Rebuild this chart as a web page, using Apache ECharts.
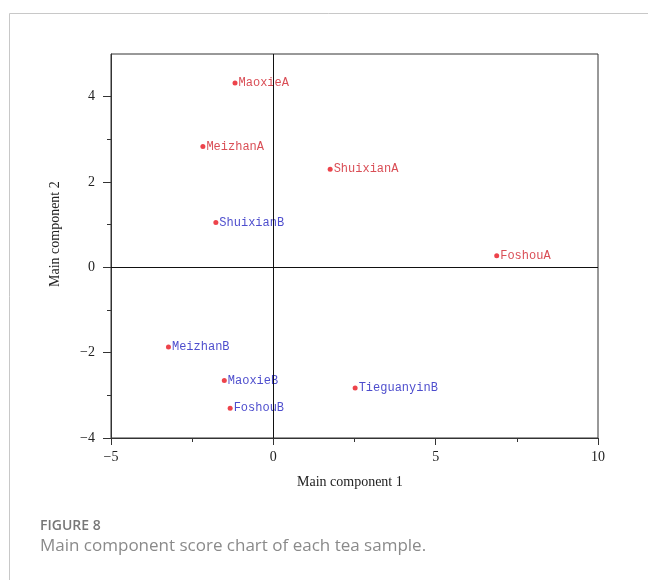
<!DOCTYPE html>
<html>
<head>
<meta charset="utf-8">
<script src="https://cdn.jsdelivr.net/npm/echarts@6/dist/echarts.min.js"></script>
<style>
  html, body { margin: 0; padding: 0; background: #fff; }
  #chart { width: 648px; height: 580px; }
</style>
</head>
<body>
<div id="chart"></div>
<script>
// Principal component scores per tea sample (A / B groups)
const samples = ['MaoxieA', 'MeizhanA', 'ShuixianA', 'FoshouA', 'ShuixianB', 'MeizhanB', 'MaoxieB', 'TieguanyinB', 'FoshouB'];
const pc1 = [-1.18, -2.17, 1.75, 6.88, -1.77, -3.23, -1.51, 2.52, -1.33];
const pc2 = [4.32, 2.83, 2.30, 0.27, 1.05, -1.87, -2.65, -2.83, -3.30];

const xTicks = [-5, 0, 5, 10];
const yTicks = [-4, -2, 0, 2, 4];
const yMinorTicks = [-3, -1, 1, 3];

const groupPoints = (suffix) => samples
  .map((name, i) => ({ name, value: [pc1[i], pc2[i]] }))
  .filter(p => p.name.endsWith(suffix));

const fmt = v => String(v).replace('-', '\u2212');
const serif = 'Liberation Serif';

const chart = echarts.init(document.getElementById('chart'));

const pointSeries = (suffix, labelColor) => ({
  type: 'scatter',
  data: groupPoints(suffix),
  symbol: 'circle',
  symbolSize: 5,
  itemStyle: { color: '#e8141e' },
  label: {
    show: true,
    position: 'right',
    distance: 1,
    formatter: p => p.name,
    color: labelColor,
    fontFamily: 'Liberation Mono',
    fontSize: 12
  },
  silent: true
});

const series = [pointSeries('A', '#d0202a'), pointSeries('B', '#2020c0')];
series[0].markLine = {
  silent: true,
  symbol: 'none',
  label: { show: false },
  lineStyle: { color: '#111', width: 1, type: 'solid' },
  data: [{ xAxis: 0 }, { yAxis: 0 }]
};

chart.setOption({
  animation: false,
  backgroundColor: '#fff',
  grid: {
    left: 111, right: 50, top: 54, bottom: 142,
    show: true, borderColor: '#333', borderWidth: 1, backgroundColor: 'transparent'
  },
  xAxis: {
    type: 'value',
    min: -5, max: 10, interval: 5,
    axisLine: { onZero: false, lineStyle: { color: '#333', width: 1 } },
    axisTick: { show: true, inside: false, length: 7, lineStyle: { color: '#333' } },
    minorTick: { show: true, splitNumber: 2, length: 4, lineStyle: { color: '#333' } },
    splitLine: { show: false },
    axisLabel: {
      margin: 12,
      formatter: v => fmt(v),
      color: '#222', fontFamily: serif, fontSize: 14
    }
  },
  yAxis: [
    {
      type: 'value',
      min: -4, max: 5,
      axisLine: { onZero: false, lineStyle: { color: '#333', width: 1 } },
      axisTick: { show: true, inside: false, length: 8, customValues: yTicks, lineStyle: { color: '#333' } },
      splitLine: { show: false },
      axisLabel: {
        customValues: yTicks,
        margin: 16,
        formatter: v => fmt(v),
        color: '#222', fontFamily: serif, fontSize: 14
      }
    },
    {
      type: 'value',
      min: -4, max: 5,
      position: 'left',
      axisLine: { show: false, onZero: false },
      axisTick: { show: true, inside: false, length: 4, customValues: yMinorTicks, lineStyle: { color: '#333' } },
      splitLine: { show: false },
      axisLabel: { show: false }
    }
  ],
  graphic: [
    // page frame
    { type: 'line', shape: { x1: 9.5, y1: 13.5, x2: 648, y2: 13.5 }, style: { stroke: '#c8c8c8', lineWidth: 1 }, silent: true },
    { type: 'line', shape: { x1: 9.5, y1: 13.5, x2: 9.5, y2: 580 }, style: { stroke: '#c8c8c8', lineWidth: 1 }, silent: true },
    // axis titles
    { type: 'text', left: 297, top: 475, style: { text: 'Main component 1', font: '14px "Liberation Serif"', fill: '#222' }, silent: true },
    { type: 'text', x: 48, y: 287, rotation: Math.PI / 2, style: { text: 'Main component 2', font: '14px "Liberation Serif"', fill: '#222' }, silent: true },
    // caption
    { type: 'text', left: 40, top: 519, style: { text: 'FIGURE 8', font: '600 14px "Open Sans"', fill: '#777' }, silent: true },
    { type: 'text', left: 40, top: 538, style: { text: 'Main component score chart of each tea sample.', font: '17px "Open Sans"', fill: '#8a8a8a' }, silent: true }
  ],
  series
});
</script>
</body>
</html>
